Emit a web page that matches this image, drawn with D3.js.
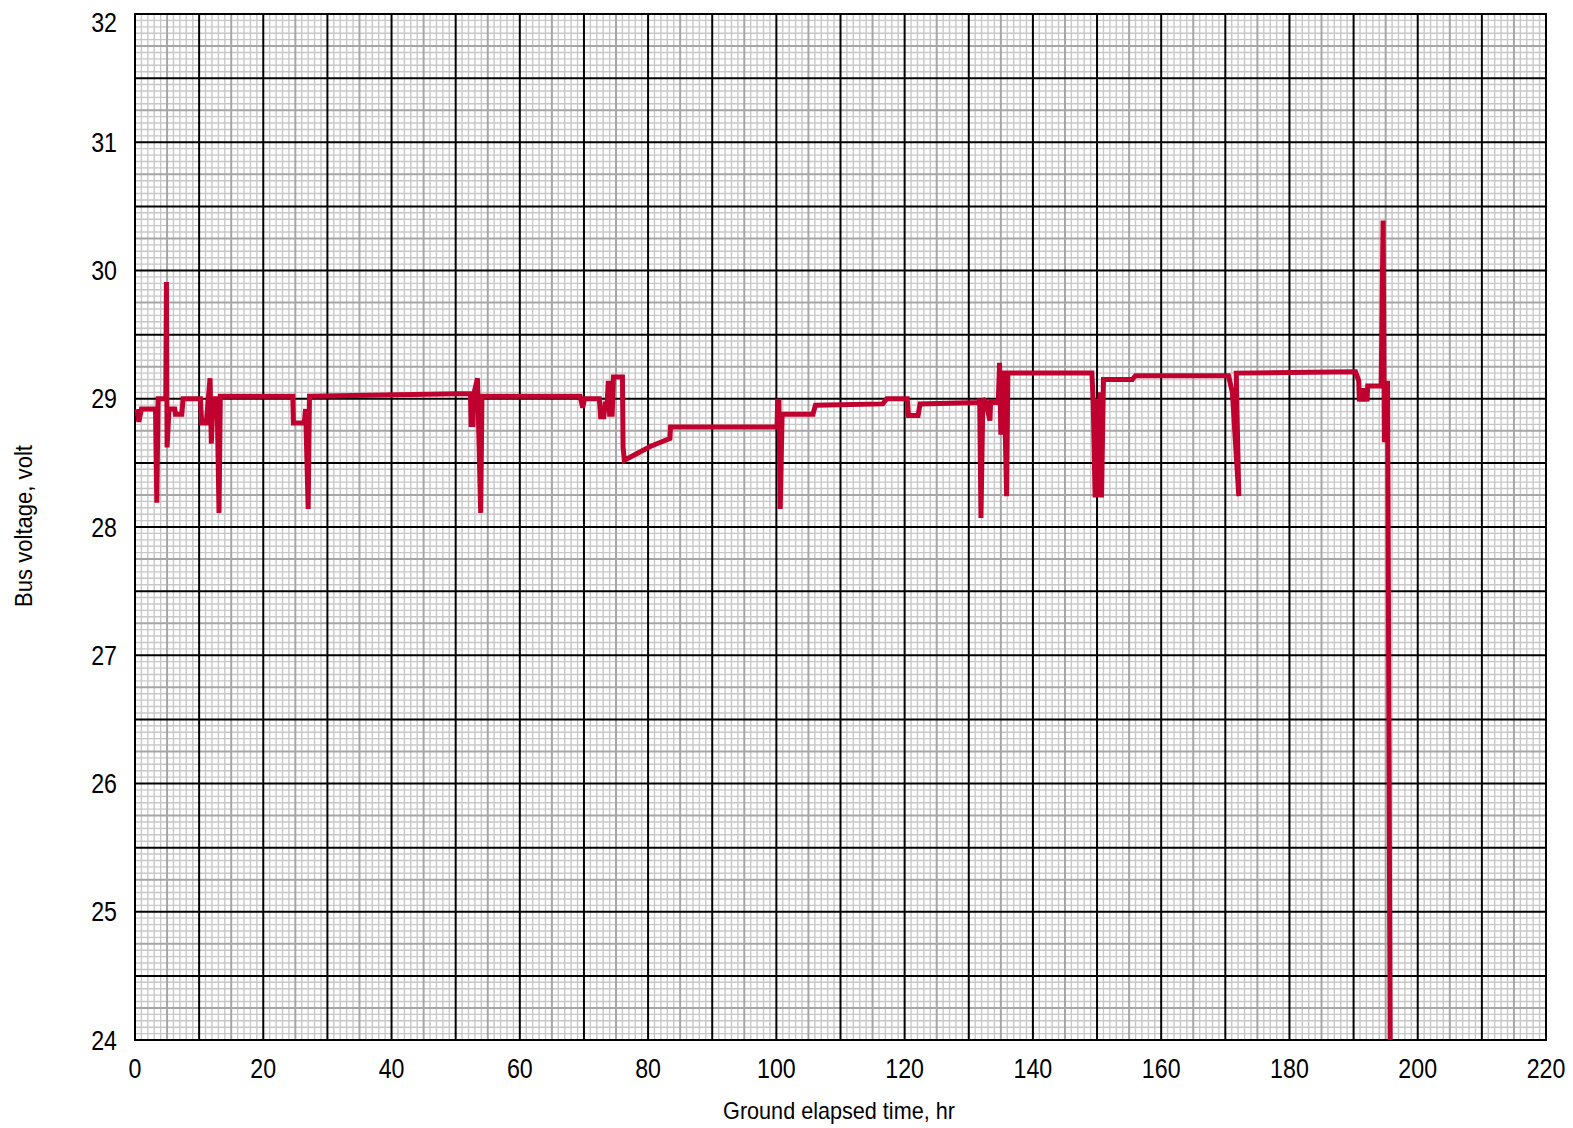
<!DOCTYPE html>
<html><head><meta charset="utf-8">
<script src="https://cdn.jsdelivr.net/npm/d3@7"></script>
<style>
html,body{margin:0;padding:0;background:#fff;}
text{font-family:'Liberation Sans Narrow','Arial Narrow','Liberation Sans',sans-serif;fill:#000;}
</style></head>
<body>
<svg id="chart" width="1573" height="1128"></svg>
<script>
const xTicks = [0,20,40,60,80,100,120,140,160,180,200,220];
const yTicks = [24,25,26,27,28,29,30,31,32];
const timeHr = [0.3,0.6,1.0,3.2,3.4,3.6,4.8,4.9,5.0,5.3,6.2,6.3,7.3,7.5,10.2,10.4,11.1,11.3,11.7,11.9,12.2,12.8,13.1,13.3,
 24.6,24.7,26.4,26.6,27.0,27.2,52.3,52.4,52.7,52.8,53.4,53.9,54.1,69.4,69.8,70.1,72.4,72.6,73.1,73.3,73.6,73.8,74.0,74.4,74.6,76.0,76.1,76.3,
 80.4,83.4,83.5,100.1,100.2,100.4,100.6,100.9,105.7,106.1,116.6,117.2,120.4,120.6,122.1,122.4,131.6,131.7,131.9,132.2,132.6,133.3,133.4,
 134.6,134.8,135.0,135.2,135.5,135.9,136.1,149.2,149.4,149.7,150.0,150.3,150.5,150.7,151.0,155.5,156.0,170.5,171.1,172.1,171.7,
 190.3,190.8,190.9,191.2,191.5,191.8,192.1,192.2,194.3,194.6,194.8,195.0,195.3,195.7];
const busVolt = [28.92,28.82,28.92,28.92,28.19,29.0,29.0,29.91,28.62,28.92,28.92,28.88,28.88,29.0,29.0,28.81,28.81,28.92,29.16,28.65,29.0,29.0,28.11,29.02,
 29.02,28.81,28.81,28.92,28.14,29.02,29.04,28.8,28.8,29.03,29.16,28.11,29.02,29.02,28.93,29.0,29.0,28.86,28.86,28.96,28.96,29.14,28.88,28.88,29.17,29.17,28.62,28.52,
 28.63,28.69,28.78,28.78,28.98,28.98,28.14,28.88,28.88,28.95,28.96,29.0,29.0,28.87,28.87,28.96,28.97,29.0,28.07,29.0,28.98,28.83,28.97,
 28.97,29.28,28.72,29.2,29.2,28.24,29.2,29.2,28.98,28.23,29.0,28.23,29.05,28.23,29.15,29.15,29.18,29.18,29.05,28.24,29.2,
 29.21,29.14,28.98,29.08,28.98,29.08,28.98,29.1,29.1,30.39,28.66,29.12,29.12,24.0];

const svg = d3.select('#chart');
const x = d3.scaleLinear().domain([0,220]).range([135,1546]);
const y = d3.scaleLinear().domain([24,32]).range([1040,14]);

const g = svg.append('g');
const minorX = d3.range(0,221,1).filter(d=>d%5!==0);
const minorY = d3.range(0,161,1).filter(i=>i%5!==0).map(i=>24+i*0.05);
g.selectAll('.mx').data(minorX).enter().append('line')
 .attr('x1',d=>x(d)).attr('x2',d=>x(d)).attr('y1',y(24)).attr('y2',y(32))
 .attr('stroke','#c8c8c8').attr('stroke-width',1.4);
g.selectAll('.my').data(minorY).enter().append('line')
 .attr('y1',d=>y(d)).attr('y2',d=>y(d)).attr('x1',x(0)).attr('x2',x(220))
 .attr('stroke','#c8c8c8').attr('stroke-width',1.4);
const midX = d3.range(5,220,10);
const midY = d3.range(0,16).map(i=>24.25+i*0.5);
g.selectAll('.dx').data(midX).enter().append('line')
 .attr('x1',d=>x(d)).attr('x2',d=>x(d)).attr('y1',y(24)).attr('y2',y(32))
 .attr('stroke','#a6a6a6').attr('stroke-width',2);
g.selectAll('.dy').data(midY).enter().append('line')
 .attr('y1',d=>y(d)).attr('y2',d=>y(d)).attr('x1',x(0)).attr('x2',x(220))
 .attr('stroke','#a6a6a6').attr('stroke-width',2);
const majX = d3.range(0,221,10);
const majY = d3.range(0,17).map(i=>24+i*0.5);
g.selectAll('.jx').data(majX).enter().append('line')
 .attr('x1',d=>x(d)).attr('x2',d=>x(d)).attr('y1',y(24)+1).attr('y2',y(32)-1)
 .attr('stroke','#000').attr('stroke-width',2);
g.selectAll('.jy').data(majY).enter().append('line')
 .attr('y1',d=>y(d)).attr('y2',d=>y(d)).attr('x1',x(0)-1).attr('x2',x(220)+1)
 .attr('stroke','#000').attr('stroke-width',2);

svg.append('g').selectAll('text').data(xTicks).enter().append('text')
 .attr('transform',d=>`translate(${x(d)},1078) scale(0.86,1)`).attr('text-anchor','middle')
 .attr('font-size',27).text(d=>d);
svg.append('g').selectAll('text').data(yTicks).enter().append('text')
 .attr('transform',d=>`translate(117,${Math.max(y(d),22)}) scale(0.86,1)`).attr('dy','0.36em').attr('text-anchor','end')
 .attr('font-size',27).text(d=>d);
svg.append('text').attr('transform','translate(839,1119) scale(0.94,1)').attr('text-anchor','middle')
 .attr('font-size',23).text('Ground elapsed time, hr');
svg.append('text').attr('transform','translate(32,526) rotate(-90) scale(0.96,1)').attr('text-anchor','middle')
 .attr('font-size',23).text('Bus voltage, volt');

const pts = timeHr.map((t,i)=>[t,busVolt[i]]);
svg.append('path').datum(pts)
 .attr('d', d3.line().x(d=>x(d[0])).y(d=>y(d[1])))
 .attr('fill','none').attr('stroke','#c0002f').attr('stroke-width',5)
 .attr('stroke-linejoin','miter').attr('stroke-miterlimit',2);
</script>
</body></html>
